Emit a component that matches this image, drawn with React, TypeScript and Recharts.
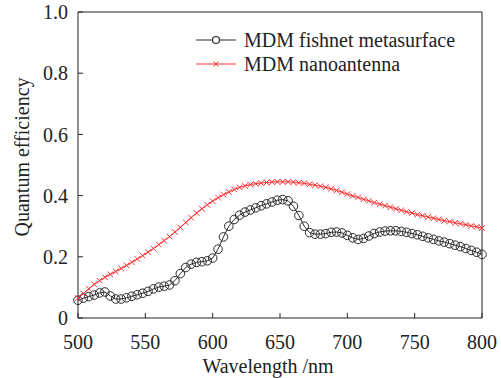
import { LineChart, Line, XAxis, YAxis, ReferenceLine } from "recharts";

const wavelengths = [
  500, 504, 508, 512, 516, 520, 524, 528, 532, 536, 540, 544, 548, 552, 556, 560, 564, 568, 572, 576,
  580, 584, 588, 592, 596, 600, 604, 608, 612, 616, 620, 624, 628, 632, 636, 640, 644, 648, 652, 656,
  660, 664, 668, 672, 676, 680, 684, 688, 692, 696, 700, 704, 708, 712, 716, 720, 724, 728, 732, 736,
  740, 744, 748, 752, 756, 760, 764, 768, 772, 776, 780, 784, 788, 792, 796, 800,
];

const fishnet = [
  0.058, 0.065, 0.07, 0.075, 0.082, 0.085, 0.072, 0.062, 0.062, 0.066, 0.071, 0.076, 0.081, 0.087, 0.095, 0.101, 0.104, 0.108, 0.122, 0.145,
  0.165, 0.176, 0.182, 0.184, 0.187, 0.196, 0.225, 0.265, 0.3, 0.322, 0.336, 0.346, 0.353, 0.36, 0.367, 0.373, 0.379, 0.385, 0.387, 0.383,
  0.365, 0.335, 0.3, 0.279, 0.274, 0.274, 0.276, 0.28, 0.281, 0.278, 0.27, 0.262, 0.257, 0.26, 0.268, 0.276, 0.281, 0.284, 0.285, 0.285,
  0.283, 0.28, 0.276, 0.272, 0.267, 0.262, 0.257, 0.252, 0.248, 0.243, 0.238, 0.233, 0.227, 0.221, 0.215, 0.208,
];

const nanoantenna = [
  0.065, 0.08, 0.095, 0.11, 0.122, 0.133, 0.143, 0.152, 0.162, 0.172, 0.182, 0.193, 0.204, 0.215, 0.227, 0.24, 0.253, 0.266, 0.281, 0.296,
  0.312, 0.328, 0.343, 0.357, 0.37, 0.382, 0.393, 0.403, 0.412, 0.42, 0.427, 0.432, 0.436, 0.439, 0.441, 0.443, 0.444, 0.445, 0.445, 0.445,
  0.444, 0.442, 0.44, 0.437, 0.434, 0.431, 0.427, 0.422, 0.417, 0.411, 0.405, 0.399, 0.394, 0.388, 0.383, 0.377, 0.372, 0.367, 0.362, 0.357,
  0.352, 0.347, 0.343, 0.338, 0.334, 0.33, 0.326, 0.322, 0.318, 0.315, 0.311, 0.308, 0.305, 0.301, 0.298, 0.294,
];

const xTicks = [500, 550, 600, 650, 700, 750, 800];
const yTicks = [0, 0.2, 0.4, 0.6, 0.8, 1.0];

const data = wavelengths.map((w, i) => ({ w, fishnet: fishnet[i], nano: nanoantenna[i] }));

const FONT = "Liberation Serif, Times New Roman, serif";
const RED = "#ff3030";
const BLACK = "#2a2a2a";

function Cross(props: any) {
  const { cx, cy, index } = props;
  if (cx == null || cy == null) return <g key={index} />;
  const s = 2.8;
  return (
    <path
      key={index}
      d={`M${cx - s},${cy - s}L${cx + s},${cy + s}M${cx - s},${cy + s}L${cx + s},${cy - s}`}
      stroke={RED}
      strokeWidth={1}
      fill="none"
    />
  );
}

function LegendBox() {
  return (
    <div style={{ position: "absolute", left: 196, top: 28, fontFamily: FONT, fontSize: 20, color: "#222", lineHeight: "24px" }}>
      <div style={{ display: "flex", alignItems: "center" }}>
        <svg width={40} height={24} style={{ marginRight: 8 }}>
          <line x1={0} y1={12} x2={40} y2={12} stroke={BLACK} strokeWidth={1.2} />
          <circle cx={20} cy={12} r={3.5} stroke={BLACK} strokeWidth={1.2} fill="white" />
        </svg>
        <span>MDM fishnet metasurface</span>
      </div>
      <div style={{ display: "flex", alignItems: "center" }}>
        <svg width={40} height={24} style={{ marginRight: 8 }}>
          <line x1={0} y1={12} x2={40} y2={12} stroke={RED} strokeWidth={1.2} />
          <path d="M17.5,9.5L22.5,14.5M17.5,14.5L22.5,9.5" stroke={RED} strokeWidth={1} />
        </svg>
        <span>MDM nanoantenna</span>
      </div>
    </div>
  );
}

export default function App() {
  return (
    <div style={{ position: "absolute", left: 0, top: 0, width: 501, height: 378, background: "#fff" }}>
      <LineChart width={501} height={378} data={data} margin={{ top: 12, right: 19, left: 0, bottom: 0 }}>
        <XAxis
          dataKey="w"
          type="number"
          domain={[500, 800]}
          ticks={xTicks}
          height={60}
          tickSize={-5}
          tickMargin={22}
          stroke="#222"
          tick={{ fill: "#222", fontSize: 20, fontFamily: FONT }}
          label={{ value: "Wavelength /nm", position: "insideBottom", offset: 5, dx: -12, fill: "#222", fontSize: 20, fontFamily: FONT }}
        />
        <YAxis
          type="number"
          domain={[0, 1]}
          ticks={yTicks}
          width={78}
          tickSize={-5}
          tickMargin={15}
          stroke="#222"
          tick={{ fill: "#222", fontSize: 20, fontFamily: FONT }}
          tickFormatter={(v: number) => (v === 0 ? "0" : v.toFixed(1))}
          label={{ value: "Quantum efficiency", angle: -90, position: "insideLeft", offset: 22, dy: -8, style: { textAnchor: "middle" }, fill: "#222", fontSize: 20, fontFamily: FONT }}
        />
        <ReferenceLine y={1} stroke="#222" strokeWidth={1} />
        <ReferenceLine x={800} stroke="#222" strokeWidth={1} />
        <Line
          dataKey="fishnet"
          stroke={BLACK}
          strokeWidth={1}
          dot={{ r: 4.3, stroke: BLACK, strokeWidth: 1, fill: "none" }}
          isAnimationActive={false}
        />
        <Line
          dataKey="nano"
          stroke={RED}
          strokeWidth={1}
          dot={<Cross />}
          isAnimationActive={false}
        />
      </LineChart>
      <LegendBox />
    </div>
  );
}
